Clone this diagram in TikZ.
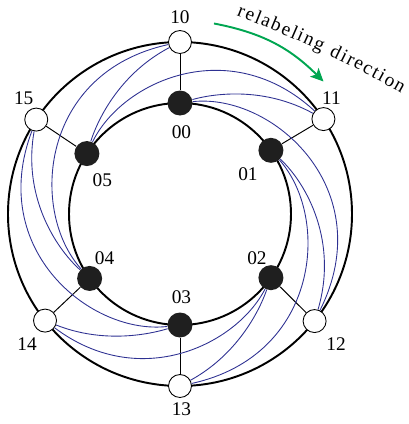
\documentclass[tikz,border=0pt]{standalone}
\usepackage{fontspec}
\setmainfont{Liberation Serif}
\usetikzlibrary{arrows.meta,decorations.text}
\definecolor{linkblue}{RGB}{46,49,146}
\definecolor{arrowgreen}{RGB}{0,166,81}
\begin{document}
\begin{tikzpicture}[
  font=\fontsize{11}{13}\selectfont,
  ring/.style={line width=1.1pt},
  spoke/.style={line width=0.55pt},
  link/.style={linkblue, line width=0.5pt},
  outer/.style={circle, draw, fill=white, line width=0.5pt, minimum size=0.46cm, inner sep=0pt},
  inner/.style={circle, fill=black!88, minimum size=0.5cm, inner sep=0pt},
  lbl/.style={inner sep=0pt}]
\useasboundingbox (-3.60,-4.20) rectangle (4.58,4.28);
\draw[ring] (0,0) circle (3.44);
\draw[ring] (0,0) circle (2.22);
\node[outer] (o0) at (90:3.44) {};
\node[outer] (o1) at (33.5:3.44) {};
\node[outer] (o2) at (-38.5:3.44) {};
\node[outer] (o3) at (-90:3.44) {};
\node[outer] (o4) at (218.3:3.44) {};
\node[outer] (o5) at (146.7:3.44) {};
\node[inner] (i0) at (90:2.22) {};
\node[inner] (i1) at (35:2.22) {};
\node[inner] (i2) at (-35:2.22) {};
\node[inner] (i3) at (-90:2.22) {};
\node[inner] (i4) at (215.5:2.22) {};
\node[inner] (i5) at (147:2.22) {};
\node[lbl] (l10) at ([shift={(0.00,0.49)}]o0) {10};
\node[lbl] (l11) at ([shift={(0.16,0.42)}]o1) {11};
\node[lbl] (l12) at ([shift={(0.43,-0.47)}]o2) {12};
\node[lbl] (l13) at ([shift={(0.03,-0.47)}]o3) {13};
\node[lbl] (l14) at ([shift={(-0.36,-0.48)}]o4) {14};
\node[lbl] (l15) at ([shift={(-0.25,0.42)}]o5) {15};
\node[lbl] (l00) at ([shift={(0.03,-0.59)}]i0) {00};
\node[lbl] (l01) at ([shift={(-0.46,-0.47)}]i1) {01};
\node[lbl] (l02) at ([shift={(-0.28,0.40)}]i2) {02};
\node[lbl] (l03) at ([shift={(0.03,0.56)}]i3) {03};
\node[lbl] (l04) at ([shift={(0.30,0.40)}]i4) {04};
\node[lbl] (l05) at ([shift={(0.31,-0.53)}]i5) {05};
\draw[spoke] (i0) -- (o0);
\draw[spoke] (i1) -- (o1);
\draw[spoke] (i2) -- (o2);
\draw[spoke] (i3) -- (o3);
\draw[spoke] (i4) -- (o4);
\draw[spoke] (i5) -- (o5);
\draw[link] (i0) .. controls (72.9:2.54) and (55.7:3.06) .. (o1);
\draw[link] (i0) .. controls (52.5:3.05) and (7.0:4.04) .. (o2);
\draw[link] (i1) .. controls (12.9:2.62) and (-10.2:3.21) .. (o2);
\draw[link] (i1) .. controls (-1.55:3.02) and (-45.5:3.97) .. (o3);
\draw[link] (i2) .. controls (-51.6:2.53) and (-68.4:3.04) .. (o3);
\draw[link] (i2) .. controls (-66.5:2.84) and (-102.6:3.65) .. (o4);
\draw[link] (i3) .. controls (-105.7:2.52) and (-121.3:3.02) .. (o4);
\draw[link] (i3) .. controls (-126.1:3.00) and (190.7:3.94) .. (o5);
\draw[link] (i4) .. controls (194.8:2.59) and (173.3:3.17) .. (o5);
\draw[link] (i4) .. controls (178.8:3.02) and (134.7:3.98) .. (o0);
\draw[link] (i5) .. controls (129.8:2.54) and (112.4:3.06) .. (o0);
\draw[link] (i5) .. controls (113.6:2.90) and (74.7:3.76) .. (o1);
\coordinate (gs) at (0.68,3.81);
\coordinate (ge) at (2.87,2.65);
\draw[arrowgreen, line width=1.1pt, -{Stealth[length=2.6mm,width=2.4mm,inset=0.6mm]}] (gs) to[bend left=17] (ge);
\coordinate (ts) at (1.13,3.97);
\coordinate (te) at (4.43,2.41);
\path[decorate, decoration={text along path, text={|\fontsize{11}{13}\selectfont|relabeling direction}, text align=fit to path}] (ts) to[bend left=4] (te);
\end{tikzpicture}
\end{document}
